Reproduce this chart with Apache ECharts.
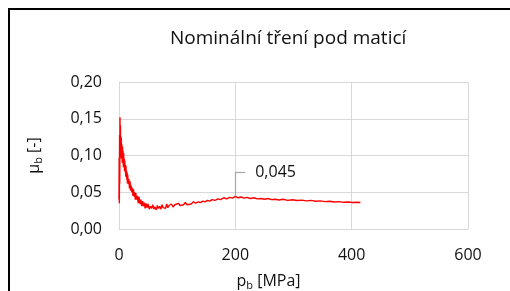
<!DOCTYPE html>
<html>
<head>
<meta charset="utf-8">
<script src="https://cdn.jsdelivr.net/npm/echarts@6/dist/echarts.min.js"></script>
<style>
  html, body { margin: 0; padding: 0; background: #fff; }
  #chart { width: 510px; height: 291px; }
</style>
</head>
<body>
<div id="chart"></div>
<script>
// tlak pod maticí [MPa] a nominální součinitel tření
var pressure = [
  0, 0.3, 0.6, 1.0, 1.3, 1.7, 2.0, 2.4, 2.8, 3.2, 3.6, 4.0, 4.5, 5.0, 5.5, 6.0, 6.5, 7.0, 7.5, 8.0,
  8.5, 9.0, 9.5, 10, 10.5, 11, 11.5, 12, 12.5, 13, 13.5, 14, 14.5, 15, 16, 17, 18, 19, 20, 21,
  22, 23, 24, 25, 26, 27, 28, 29, 30, 31.5, 33, 34.5, 36, 37.5, 39, 40.5, 42, 43.5, 45, 46.5,
  48, 50, 52, 54, 56, 58, 60, 62, 64, 66, 68, 70, 72, 74, 76, 78, 80, 82, 84, 86,
  88, 90, 93, 96, 99, 102, 105, 108, 111, 114, 117, 120, 124, 128, 132, 136, 140, 144, 148, 152,
  156, 160, 165, 170, 175, 180, 185, 190, 195, 200, 205, 210, 215, 220, 226, 232, 238, 244, 250, 256,
  262, 268, 275, 282, 290, 298, 306, 314, 322, 330, 338, 346, 354, 362, 370, 378, 386, 394, 402, 410,
  415
];
var mu = [
  0.040, 0.097, 0.035, 0.128, 0.062, 0.152, 0.108, 0.141, 0.103, 0.126, 0.096, 0.124, 0.099, 0.115, 0.090, 0.112, 0.093, 0.106, 0.084, 0.103,
  0.085, 0.096, 0.079, 0.093, 0.078, 0.087, 0.071, 0.086, 0.072, 0.079, 0.067, 0.077, 0.062, 0.074, 0.061, 0.068, 0.055, 0.065, 0.052, 0.059,
  0.050, 0.056, 0.045, 0.054, 0.044, 0.050, 0.040, 0.049, 0.040, 0.045, 0.035, 0.044, 0.034, 0.040, 0.031, 0.038, 0.031, 0.036, 0.028, 0.035,
  0.029, 0.034, 0.027, 0.031, 0.028, 0.033, 0.027, 0.030, 0.026, 0.032, 0.028, 0.031, 0.027, 0.033, 0.029, 0.031, 0.028, 0.034, 0.029, 0.032,
  0.031, 0.034, 0.030, 0.033, 0.031, 0.035, 0.032, 0.034, 0.033, 0.036, 0.033, 0.035, 0.034, 0.037, 0.035, 0.037, 0.036, 0.038, 0.037, 0.039,
  0.038, 0.040, 0.039, 0.041, 0.040, 0.0425, 0.041, 0.043, 0.042, 0.0445, 0.0425, 0.0435, 0.042, 0.043, 0.0415, 0.0425, 0.041, 0.0415, 0.0405, 0.0415,
  0.040, 0.0405, 0.0395, 0.0405, 0.039, 0.0398, 0.0388, 0.0393, 0.0383, 0.039, 0.0378, 0.0383, 0.0372, 0.0378, 0.0368, 0.0373, 0.0363, 0.0368, 0.036, 0.0364,
  0.036
];
var xTicks = [0, 600, 200];      // min, max, interval
var yTicks = [0, 0.20, 0.05];
var peakP = 200;
var peakMu = 0.0445;
var peakText = '0,045';

var chart = echarts.init(document.getElementById('chart'), null, {renderer: 'canvas'});

var pts = pressure.map(function (p, i) { return [p, mu[i]]; });
var font = 'Open Sans';
var gridColor = '#d9d9d9';

chart.setOption({
  animation: false,
  title: {
    text: 'Nominální tření pod maticí',
    left: 165,
    top: 24,
    textStyle: {fontFamily: font, fontSize: 19, fontWeight: 'normal', color: '#111'}
  },
  grid: {left: 119, right: 42, top: 82, bottom: 62, containLabel: false, outerBoundsMode: 'none'},
  xAxis: {
    type: 'value',
    min: xTicks[0], max: xTicks[1], interval: xTicks[2],
    name: '{m|p}{s|b}{m| [MPa]}',
    nameLocation: 'middle',
    nameGap: 42,
    nameTextStyle: {
      padding: [0, 50, 0, 0],
      rich: {
        m: {fontFamily: font, fontSize: 16, color: '#111', lineHeight: 20},
        s: {fontFamily: font, fontSize: 11, color: '#111', lineHeight: 10, verticalAlign: 'bottom'}
      }
    },
    axisLine: {lineStyle: {color: gridColor}},
    axisTick: {show: false},
    axisLabel: {fontFamily: font, fontSize: 16, color: '#111', margin: 18},
    splitLine: {lineStyle: {color: gridColor}}
  },
  yAxis: {
    type: 'value',
    min: yTicks[0], max: yTicks[1], interval: yTicks[2],
    name: '{m|μ}{s|b}{m| [-]}',
    nameLocation: 'middle',
    nameGap: 75,
    nameTextStyle: {
      rich: {
        m: {fontFamily: font, fontSize: 16, color: '#111', lineHeight: 20},
        s: {fontFamily: font, fontSize: 11, color: '#111', lineHeight: 10, verticalAlign: 'bottom'}
      }
    },
    axisLine: {show: true, lineStyle: {color: gridColor}},
    axisTick: {show: false},
    axisLabel: {
      fontFamily: font, fontSize: 16, color: '#111', margin: 17,
      formatter: function (v) { return v.toFixed(2).replace('.', ','); }
    },
    splitLine: {lineStyle: {color: gridColor}}
  },
  graphic: [{
    type: 'rect',
    shape: {x: 9, y: 9, width: 600, height: 400},
    style: {fill: 'none', stroke: '#000', lineWidth: 2},
    silent: true
  }],
  series: [{
    type: 'line',
    data: pts,
    symbol: 'none',
    lineStyle: {color: '#ff0000', width: 1.4},
    markLine: {
      silent: true,
      symbol: 'none',
      lineStyle: {color: '#a6a6a6', width: 1.2, type: 'solid'},
      label: {show: false},
      data: [
        [{coord: [peakP, peakMu]}, {coord: [peakP, peakMu + 0.033]}],
        [{coord: [peakP, peakMu + 0.033]}, {coord: [peakP + 17, peakMu + 0.033],
          label: {show: true, position: 'end', formatter: peakText, distance: 10,
                  fontFamily: font, fontSize: 16, color: '#111'}}]
      ]
    }
  }]
});
</script>
</body>
</html>
